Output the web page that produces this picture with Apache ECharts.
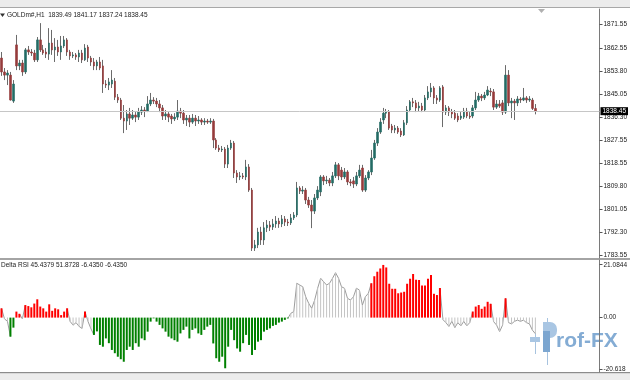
<!DOCTYPE html>
<html><head><meta charset="utf-8">
<script src="https://cdn.jsdelivr.net/npm/echarts@6/dist/echarts.min.js"></script>
<style>html,body{margin:0;padding:0;background:#fff}#c{width:630px;height:380px}</style>
</head><body><div id="c"></div><script>
// ---- data (GOLDm#, H1) ----
const opens = [
1858.7,1853.4,1852.2,1852.2,1842.3,1863.7,1855.7,1856.8,1853.4,1861.8,
1861.0,1860.6,1858.0,1865.6,1861.8,1861.0,1860.2,1864.4,1861.8,1862.9,
1861.0,1863.3,1865.6,1861.0,1859.5,1859.9,1859.1,1860.6,1858.0,1862.9,
1858.7,1857.2,1855.7,1857.2,1855.7,1848.8,1848.4,1848.8,1849.9,1843.8,
1842.7,1835.8,1834.7,1837.4,1835.8,1837.0,1836.2,1838.1,1838.9,1838.5,
1841.2,1842.7,1842.3,1841.2,1839.7,1836.6,1837.4,1836.6,1835.5,1836.2,
1838.5,1837.7,1835.1,1835.8,1834.3,1835.8,1834.7,1835.1,1834.3,1834.7,
1834.3,1834.7,1827.5,1824.4,1823.7,1824.0,1818.3,1824.4,1826.3,1814.9,
1813.4,1813.8,1813.4,1817.2,1808.4,1786.3,1787.5,1792.4,1789.4,1794.0,
1795.1,1794.3,1795.5,1796.6,1795.5,1797.4,1796.2,1795.9,1797.8,1798.9,
1809.2,1808.0,1808.4,1804.6,1802.7,1800.4,1805.4,1807.7,1813.4,1811.9,
1812.2,1811.1,1813.8,1818.0,1816.0,1813.4,1815.3,1811.5,1811.9,1810.7,
1813.8,1816.8,1808.4,1813.0,1815.3,1820.6,1826.3,1830.5,1835.1,1837.7,
1838.1,1832.8,1831.3,1832.0,1830.9,1829.4,1834.0,1838.9,1842.0,1841.6,
1839.7,1840.4,1838.9,1843.5,1845.8,1847.3,1843.5,1842.7,1847.7,1838.1,
1839.7,1838.1,1837.7,1836.6,1835.8,1836.2,1838.5,1836.6,1836.6,1839.7,
1842.7,1844.2,1843.5,1844.6,1846.1,1845.8,1840.0,1841.2,1841.6,1838.1,
1852.2,1841.6,1842.3,1841.6,1843.1,1842.7,1843.5,1842.7,1842.7,1839.49];
const closes = [
1853.4,1852.2,1853.0,1842.7,1848.8,1855.7,1856.8,1853.4,1861.8,1861.0,
1860.6,1858.0,1865.6,1861.8,1860.6,1860.2,1864.4,1861.8,1862.9,1861.0,
1863.3,1865.6,1861.0,1859.5,1859.9,1859.1,1860.6,1858.0,1862.5,1858.7,
1857.2,1855.7,1857.2,1854.9,1848.8,1848.4,1849.6,1850.3,1843.8,1842.7,
1835.8,1834.7,1837.4,1835.8,1837.0,1836.2,1838.1,1838.9,1838.5,1841.2,
1842.7,1842.3,1841.2,1839.7,1836.6,1837.4,1836.2,1835.5,1836.2,1838.5,
1837.7,1835.1,1835.8,1834.3,1835.8,1834.7,1835.1,1834.3,1834.7,1834.3,
1834.7,1827.5,1824.4,1823.7,1824.0,1818.3,1824.4,1826.3,1814.9,1813.4,
1813.8,1813.4,1817.2,1808.4,1786.3,1787.5,1792.4,1789.4,1794.0,1795.1,
1794.3,1795.5,1796.6,1795.5,1797.4,1796.2,1795.9,1797.8,1798.9,1809.2,
1808.0,1808.4,1804.6,1802.7,1800.4,1805.4,1808.4,1813.4,1811.9,1812.2,
1811.1,1813.8,1818.0,1813.8,1813.4,1815.3,1811.5,1811.1,1810.7,1813.8,
1816.0,1808.4,1813.0,1815.3,1820.6,1826.3,1830.5,1834.3,1837.7,1838.1,
1832.0,1831.3,1832.0,1830.5,1829.4,1834.0,1838.9,1842.0,1841.6,1839.7,
1840.4,1838.9,1843.5,1845.8,1847.3,1843.5,1842.7,1847.3,1838.1,1839.7,
1838.1,1837.4,1835.8,1835.1,1836.6,1838.5,1836.6,1836.2,1839.7,1842.7,
1844.2,1843.5,1844.6,1846.5,1845.8,1840.0,1841.2,1840.4,1838.1,1852.2,
1841.6,1842.3,1841.6,1843.1,1842.7,1843.5,1842.7,1843.1,1839.5,1838.45];
const highs = [
1861.0,1854.9,1854.1,1853.4,1850.3,1867.5,1858.0,1858.0,1862.5,1863.3,
1862.1,1861.8,1866.7,1872.0,1863.7,1862.5,1870.1,1869.4,1866.3,1865.6,
1867.1,1867.1,1866.3,1861.8,1861.0,1860.6,1861.8,1861.8,1864.0,1863.7,
1859.5,1858.7,1858.0,1859.1,1858.0,1850.3,1851.1,1854.1,1851.1,1845.0,
1843.5,1840.8,1838.9,1839.7,1838.9,1838.1,1839.7,1840.4,1840.0,1844.2,
1845.4,1843.8,1843.5,1842.7,1840.8,1838.9,1838.1,1837.4,1837.7,1842.7,
1839.7,1838.9,1837.0,1837.0,1837.4,1837.0,1836.6,1835.8,1835.8,1835.5,
1835.8,1835.5,1828.2,1825.6,1825.2,1824.8,1825.6,1827.5,1827.1,1816.0,
1815.3,1814.9,1819.9,1818.3,1809.2,1789.4,1794.0,1794.4,1796.2,1797.0,
1796.6,1797.4,1798.5,1797.8,1798.9,1798.5,1797.4,1799.3,1800.0,1811.5,
1809.9,1809.9,1809.2,1805.8,1804.6,1806.9,1809.9,1814.1,1814.1,1813.8,
1813.0,1815.3,1819.1,1818.7,1817.2,1816.8,1816.0,1812.6,1813.4,1815.3,
1818.0,1818.0,1814.1,1816.0,1823.7,1827.5,1832.0,1835.8,1839.7,1839.3,
1838.9,1833.6,1833.2,1832.8,1832.0,1835.1,1840.4,1842.7,1843.5,1842.7,
1842.0,1841.6,1844.6,1848.0,1849.2,1848.0,1844.6,1848.0,1848.4,1840.8,
1840.4,1839.3,1838.9,1837.7,1838.1,1839.7,1839.7,1838.1,1840.8,1845.8,
1845.4,1845.0,1845.8,1848.0,1847.3,1846.9,1842.7,1842.7,1842.7,1856.0,
1854.1,1843.5,1843.1,1844.2,1843.8,1847.3,1844.2,1844.2,1843.5,1841.17];
const lows = [
1851.9,1850.3,1848.4,1842.5,1841.6,1854.1,1854.1,1851.9,1852.6,1859.9,
1859.5,1857.2,1857.2,1861.0,1859.9,1858.7,1858.0,1859.9,1857.2,1859.5,
1858.0,1862.5,1859.5,1858.0,1858.7,1858.0,1857.2,1856.8,1857.6,1857.2,
1855.7,1854.1,1854.1,1854.1,1845.4,1847.3,1846.5,1847.3,1842.7,1841.6,
1835.1,1830.1,1831.3,1833.2,1835.1,1834.3,1835.1,1837.0,1836.2,1838.1,
1840.4,1841.2,1840.0,1838.1,1835.1,1835.1,1834.3,1833.6,1834.7,1835.1,
1835.8,1833.6,1832.8,1832.4,1833.6,1832.8,1833.6,1833.2,1833.2,1833.6,
1833.6,1824.4,1823.7,1822.9,1822.9,1816.8,1816.8,1823.7,1813.0,1811.1,
1812.2,1812.6,1812.2,1807.7,1785.2,1785.2,1786.3,1787.5,1787.5,1792.4,
1792.8,1793.2,1794.0,1794.0,1794.3,1794.7,1794.7,1795.1,1797.0,1798.1,
1806.9,1806.9,1803.1,1801.6,1793.9,1799.3,1804.6,1806.1,1810.3,1810.7,
1809.9,1809.9,1813.0,1812.2,1812.2,1812.6,1810.3,1809.9,1809.2,1809.9,
1813.0,1807.7,1807.7,1812.2,1814.1,1819.9,1825.2,1829.8,1833.6,1835.8,
1831.3,1830.1,1830.1,1829.8,1828.6,1829.0,1833.2,1838.1,1840.0,1838.1,
1838.5,1838.1,1838.5,1842.7,1843.8,1841.2,1841.2,1842.0,1832.4,1837.0,
1836.6,1835.8,1835.1,1834.3,1835.1,1835.5,1835.8,1835.5,1835.8,1838.9,
1842.0,1842.3,1842.7,1844.2,1844.2,1838.9,1839.3,1839.7,1837.0,1837.4,
1840.4,1835.8,1835.1,1840.4,1841.6,1842.3,1841.6,1842.0,1838.9,1837.24];
// Delta RSI histogram values, one per bar
const deltaRsi = [
3.7,-0.5,-1.5,-7.6,-4.0,2.4,1.5,-0.5,5.0,4.6,
4.1,5.6,7.3,4.4,3.7,2.4,5.3,2.7,3.7,3.3,
1.0,2.4,3.7,-1.5,-3.0,-2.0,-3.5,-4.3,2.4,-1.5,
-4.5,-6.9,-5.5,-10.9,-11.6,-8.3,-10.2,-12.9,-14.2,-15.6,
-16.6,-17.6,-12.9,-11.6,-12.9,-10.2,-11.6,-8.3,-9.0,-5.6,
-1.6,-0.3,-1.6,-2.9,-4.3,-5.6,-7.6,-8.3,-9.0,-9.6,
-6.3,-4.9,-3.6,-8.3,-4.9,-4.3,-6.3,-6.9,-4.9,-3.6,
-2.9,-10.3,-16.2,-17.6,-15.6,-20.2,-11.6,-4.9,-9.0,-12.3,
-13.6,-10.2,-6.9,-10.9,-14.9,-12.9,-9.6,-9.0,-5.6,-4.9,
-4.3,-3.3,-2.9,-2.0,-1.6,-0.9,-0.3,1.7,2.4,13.7,
13.0,12.3,8.3,5.7,3.7,7.0,11.7,15.7,14.3,13.0,
13.7,15.7,17.9,15.7,12.3,11.7,7.7,7.0,8.3,11.7,
11.0,5.0,8.3,9.7,13.7,16.5,18.3,19.6,21.0,20.0,
13.5,11.5,11.5,9.7,10.0,10.3,13.5,15.5,17.4,15.1,
15.0,12.8,12.8,15.5,17.0,9.5,9.0,11.8,-0.8,-2.0,
-3.5,-1.5,-4.0,-2.0,-3.3,-1.5,-3.3,-2.0,2.4,4.4,
5.0,3.5,4.4,6.3,5.5,-1.6,-3.0,-5.6,-3.0,7.7,
-2.0,-2.5,-1.5,-1.0,-1.5,-1.0,-2.0,-2.5,-5.0,-6.435];
// colour state of each histogram bar: r = red, g = green, n = neutral (grey)
const deltaState = (
'rnnggrrn' + 'rrrrrrrrrrrrrrr' + 'nnnnn' + 'r' + 'nn' +
'gggggggggggggggggggggggggggggggggggggggggggggggggggggggggggggggggg' +
'nnnnnnnnnnnnnnnnnnnnnnnnnnn' + 'rrrrrrrrrrrrrrrrrrrrrrrr' + 'nnnnnnnnnn' +
'rrrrrrr' + 'nnnn' + 'r' + 'nnnnnnnnnn').split('');
const rsiBufferValues = [45.4379, 51.8728];
const priceTicks = [1871.55,1862.55,1853.80,1845.05,1836.30,1827.55,1818.55,1809.80,1801.05,1792.30,1783.55];
const rsiTicks = [21.0844, 0, -20.618];
const rsiTickLabels = ['21.0844','0.00','-20.618'];
const symbolName = 'GOLDm#,H1';
const indicatorName = 'Delta RSI';

// ---- chart ----
const FONT = 'Liberation Sans';
const BULL = '#236b64', BEAR = '#953b3b', WICK = '#6b6b6b';
const RED = '#ff0000', GREEN = '#008000', GREY = '#c4c4c4', GREYLINE = '#9c9c9c';
const n = closes.length;
const shiftBars = 21;
const categories = Array.from({length: n + shiftBars}, (_, i) => String(i));
const wickData = closes.map((c, i) => [opens[i], c, lows[i], highs[i]]);
const bodyData = closes.map((c, i) => [opens[i], c, Math.min(opens[i], c), Math.max(opens[i], c)]);
const colorBars = deltaRsi.map((v, i) => deltaState[i] === 'n' ? '-' :
  {value: v, itemStyle: {color: deltaState[i] === 'r' ? RED : GREEN}});
const greyBars = deltaRsi.map((v, i) => deltaState[i] === 'n' ? v : '-');
const lineData = deltaRsi.map((v, i) =>
  (deltaState[i] === 'n' || deltaState[i - 1] === 'n' || deltaState[i + 1] === 'n') ? v : '-');
const last = n - 1;
const lastPrice = closes[last];
const title1 = symbolName + '  ' + [opens[last], highs[last], lows[last], closes[last]].map(v => v.toFixed(2)).join(' ');
const title2 = indicatorName + ' ' + rsiBufferValues.map(v => v.toFixed(4)).join(' ') + ' ' +
  deltaRsi[last].toFixed(4) + ' ' + deltaRsi[last].toFixed(4);

const chart = echarts.init(document.getElementById('c'), null, {renderer: 'canvas', width: 630, height: 380});
const lbl = {fontSize: 6.5, fontFamily: FONT, color: '#1a1a1a', margin: 4};
chart.setOption({
  animation: false,
  backgroundColor: '#ffffff',
  textStyle: {fontFamily: FONT},
  grid: [
    {left: 0, top: 9, width: 603, height: 249},
    {left: 0, top: 260, width: 603, height: 112}
  ],
  xAxis: [
    {type: 'category', gridIndex: 0, data: categories, show: false},
    {type: 'category', gridIndex: 1, data: categories, show: false},
    {type: 'category', gridIndex: 1, data: categories, show: false}
  ],
  yAxis: [
    {type: 'value', gridIndex: 0, position: 'right', min: 1782.52, max: 1877.38,
     splitLine: {show: false},
     axisLine: {show: true, lineStyle: {color: '#7a7a7a', width: 1}},
     axisTick: {show: true, length: 3, customValues: priceTicks, lineStyle: {color: '#555'}},
     axisLabel: Object.assign({customValues: priceTicks, formatter: v => v.toFixed(2)}, lbl)},
    {type: 'value', gridIndex: 1, position: 'right', min: -21.69, max: 22.97,
     splitLine: {show: false},
     axisLine: {show: true, lineStyle: {color: '#7a7a7a', width: 1}},
     axisTick: {show: true, length: 3, customValues: rsiTicks, lineStyle: {color: '#555'}},
     axisLabel: Object.assign({customValues: rsiTicks, formatter: v => {
        let k = 0; rsiTicks.forEach((t, j) => { if (Math.abs(t - v) < Math.abs(rsiTicks[k] - v)) k = j; });
        return rsiTickLabels[k]; }}, lbl)}
  ],
  series: [
    {type: 'candlestick', name: 'wick', xAxisIndex: 0, yAxisIndex: 0, data: wickData, barWidth: 1, z: 2,
     large: false,
     itemStyle: {color: WICK, color0: WICK, borderColor: WICK, borderColor0: WICK, borderWidth: 1},
     markLine: {silent: true, symbol: 'none', animation: false,
       data: [{yAxis: lastPrice}],
       lineStyle: {color: '#c6c6c6', type: 'solid', width: 1},
       label: {show: true, position: 'end', distance: 1, formatter: () => lastPrice.toFixed(2),
               backgroundColor: '#000', color: '#fff', fontSize: 6.5, fontFamily: FONT, padding: [1, 2, 0, 2]}}},
    {type: 'candlestick', name: 'body', xAxisIndex: 0, yAxisIndex: 0, data: bodyData, barWidth: 2, z: 3,
     large: false,
     itemStyle: {color: BULL, color0: BEAR, borderColor: BULL, borderColor0: BEAR, borderWidth: 0.6}},
    {type: 'line', name: 'deltaLine', xAxisIndex: 1, yAxisIndex: 1, data: lineData, symbol: 'none',
     connectNulls: false, z: 1, lineStyle: {color: GREYLINE, width: 1}},
    {type: 'bar', name: 'deltaColor', xAxisIndex: 1, yAxisIndex: 1, data: colorBars, barWidth: 2, z: 3},
    {type: 'bar', name: 'deltaGrey', xAxisIndex: 2, yAxisIndex: 1, data: greyBars, barWidth: 1, z: 2,
     itemStyle: {color: GREY}}
  ],
  graphic: [
    {type: 'rect', shape: {x: 0, y: 0, width: 630, height: 7}, style: {fill: '#ececec'}, silent: true},
    {type: 'rect', shape: {x: 0, y: 7, width: 630, height: 1}, style: {fill: '#a8a8a8'}, silent: true},
    {type: 'rect', shape: {x: 0, y: 258, width: 630, height: 2}, style: {fill: '#a4a4a4'}, silent: true},
    {type: 'rect', shape: {x: 0, y: 372, width: 630, height: 1.5}, style: {fill: '#8c8c8c'}, silent: true},
    {type: 'rect', shape: {x: 0, y: 373.5, width: 630, height: 7}, style: {fill: '#ececec'}, silent: true},
    {type: 'polygon', shape: {points: [[0, 13.5], [5, 13.5], [2.5, 17]]}, style: {fill: '#333'}, silent: true},
    {type: 'polygon', shape: {points: [[538, 9], [545, 9], [541.5, 13]]}, style: {fill: '#b0b0b0'}, silent: true},
    {type: 'text', x: 7, y: 15.5, style: {text: title1, fontSize: 6.5, fontFamily: FONT, fill: '#1a1a1a', verticalAlign: 'middle'}, silent: true},
    {type: 'text', x: 1, y: 265, style: {text: title2, fontSize: 6.5, fontFamily: FONT, fill: '#1a1a1a', verticalAlign: 'middle'}, silent: true, z: 10},
    // Prof-FX watermark
    {type: 'group', silent: true, z: 20, children: [
      {type: 'line', shape: {x1: 535.5, y1: 333, x2: 535.5, y2: 354}, style: {stroke: '#a7c3df', lineWidth: 1}},
      {type: 'rect', shape: {x: 530, y: 337, width: 10, height: 5}, style: {fill: '#a9c6e3'}},
      {type: 'line', shape: {x1: 547.5, y1: 318, x2: 547.5, y2: 365}, style: {stroke: '#a7c3df', lineWidth: 1}},
      {type: 'rect', shape: {x: 543, y: 322, width: 14, height: 16, r: [0, 7, 7, 0]}, style: {fill: '#a9c6e3'}},
      {type: 'rect', shape: {x: 543, y: 331, width: 7, height: 21}, style: {fill: '#7ca6d0'}},
      {type: 'text', x: 556, y: 352, style: {text: 'rof-FX', fontSize: 21, fontWeight: 'bold', fontFamily: FONT, fill: '#84acd4', verticalAlign: 'bottom'}}
    ]}
  ]
});
</script></body></html>
